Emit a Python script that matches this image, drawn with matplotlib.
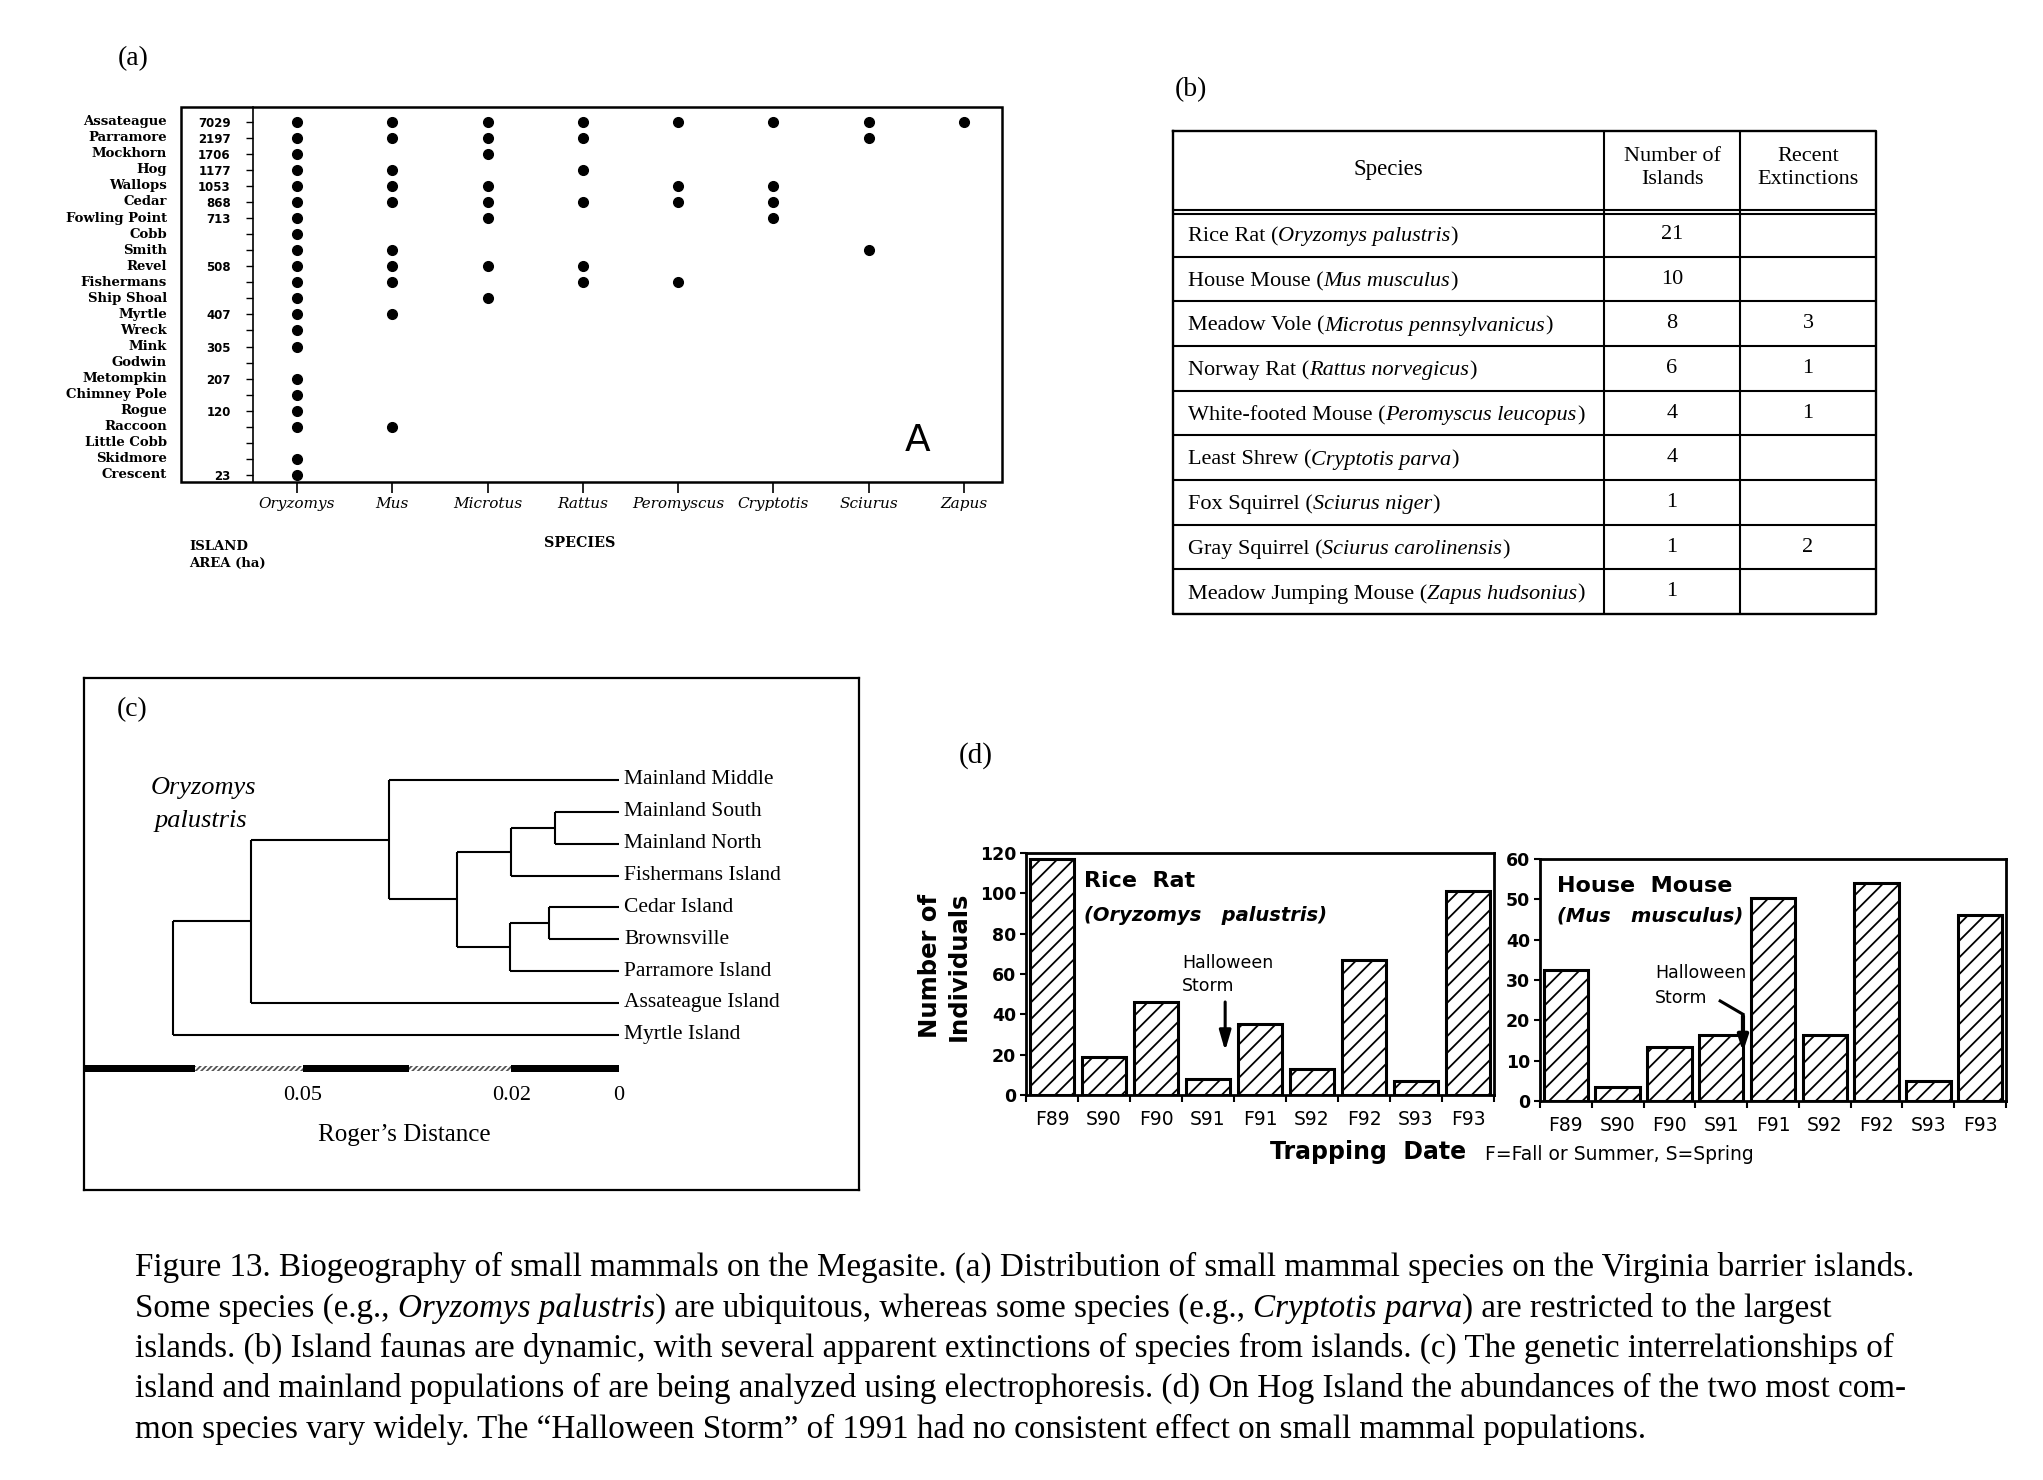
import matplotlib
matplotlib.use('Agg')
import matplotlib.pyplot as plt
import matplotlib.transforms as mtransforms
from matplotlib.patches import Rectangle

# ---------------- data ----------------
# (a) distribution of species on islands
islands = ['Assateague', 'Parramore', 'Mockhorn', 'Hog', 'Wallops', 'Cedar',
           'Fowling Point', 'Cobb', 'Smith', 'Revel', 'Fishermans', 'Ship Shoal',
           'Myrtle', 'Wreck', 'Mink', 'Godwin', 'Metompkin', 'Chimney Pole',
           'Rogue', 'Raccoon', 'Little Cobb', 'Skidmore', 'Crescent']
island_areas = ['7029', '2197', '1706', '1177', '1053', '868', '713', '', '', '508',
                '', '', '407', '', '305', '', '207', '', '120', '', '', '', '23']
genera = ['Oryzomys', 'Mus', 'Microtus', 'Rattus', 'Peromyscus', 'Cryptotis',
          'Sciurus', 'Zapus']
oryzomys_islands = ['Assateague', 'Parramore', 'Mockhorn', 'Hog', 'Wallops', 'Cedar',
                    'Fowling Point', 'Cobb', 'Smith', 'Revel', 'Fishermans',
                    'Ship Shoal', 'Myrtle', 'Wreck', 'Mink', 'Metompkin',
                    'Chimney Pole', 'Rogue', 'Raccoon', 'Skidmore', 'Crescent']
mus_islands = ['Assateague', 'Parramore', 'Hog', 'Wallops', 'Cedar', 'Smith',
               'Revel', 'Fishermans', 'Myrtle', 'Raccoon']
microtus_islands = ['Assateague', 'Parramore', 'Mockhorn', 'Wallops', 'Cedar',
                    'Fowling Point', 'Revel', 'Ship Shoal']
rattus_islands = ['Assateague', 'Parramore', 'Hog', 'Cedar', 'Revel', 'Fishermans']
peromyscus_islands = ['Assateague', 'Wallops', 'Cedar', 'Fishermans']
cryptotis_islands = ['Assateague', 'Wallops', 'Cedar', 'Fowling Point']
sciurus_islands = ['Assateague', 'Parramore', 'Smith']
zapus_islands = ['Assateague']

# (b) table
common_names = ['Rice Rat', 'House Mouse', 'Meadow Vole', 'Norway Rat',
                'White-footed Mouse', 'Least Shrew', 'Fox Squirrel',
                'Gray Squirrel', 'Meadow Jumping Mouse']
latin_names = ['Oryzomys palustris', 'Mus musculus', 'Microtus pennsylvanicus',
               'Rattus norvegicus', 'Peromyscus leucopus', 'Cryptotis parva',
               'Sciurus niger', 'Sciurus carolinensis', 'Zapus hudsonius']
number_of_islands = [21, 10, 8, 6, 4, 4, 1, 1, 1]
recent_extinctions = ['', '', '3', '1', '1', '', '', '2', '']

# (c) dendrogram
leaves = ['Mainland Middle', 'Mainland South', 'Mainland North', 'Fishermans Island',
          'Cedar Island', 'Brownsville', 'Parramore Island', 'Assateague Island',
          'Myrtle Island']
# (child a, child b, height); ids >= len(leaves) are earlier merges
merges = [(1, 2, 0.0119), (9, 3, 0.0201), (4, 5, 0.0130), (11, 6, 0.0203),
          (10, 12, 0.0304), (0, 13, 0.0431), (14, 7, 0.0689), (15, 8, 0.0836)]
scale_edges = [0.1003, 0.0795, 0.0592, 0.0394, 0.0201, 0.0]
scale_tick_pos = [0.0592, 0.0201, 0.0]
scale_tick_labels = ['0.05', '0.02', '0']

# (d) trapping
dates = ['F89', 'S90', 'F90', 'S91', 'F91', 'S92', 'F92', 'S93', 'F93']
rice_rat = [117, 19, 46, 8, 35, 13, 67, 7, 101]
house_mouse = [32.5, 3.5, 13.5, 16.3, 50.3, 16.3, 54, 5, 46]

# ---------------- figure ----------------
W, H = 2043, 1480
DPI = 100
plt.rcParams['hatch.linewidth'] = 1.3
fig = plt.figure(figsize=(W / DPI, H / DPI), dpi=DPI)
fig.patch.set_facecolor('white')
SERIF = 'Liberation Serif'
SANS = 'DejaVu Sans'
renderer = fig.canvas.get_renderer()


def fx(x):
    return x / W


def fy(y):
    return 1 - y / H


def text_width_px(s, **kw):
    t1 = fig.text(0, 0, '|' + s + '|', **kw)
    t2 = fig.text(0, 0, '||', **kw)
    w = t1.get_window_extent(renderer).width - t2.get_window_extent(renderer).width
    t1.remove()
    t2.remove()
    return w


def rich(xpx, ypx, parts, size, family=SERIF, ha='left'):
    widths = [text_width_px(s, fontsize=size, family=family, style=st) for s, st in parts]
    total = sum(widths)
    x = xpx - (total / 2 if ha == 'center' else 0)
    for (s, st), w in zip(parts, widths):
        fig.text(fx(x), fy(ypx), s, fontsize=size, family=family, style=st,
                 va='baseline', ha='left')
        x += w
    return total


# ---------------- panel (a) ----------------
fig.text(fx(133), fy(59), '(a)', fontsize=20, family=SERIF, ha='center', va='center')
axa = fig.add_axes([fx(181), fy(482), 821 / W, 375 / H])
axa.set_xlim(-1.217, 7.398)
axa.set_ylim(22.436, -0.915)
for s in ['top', 'right', 'bottom']:
    axa.spines[s].set_visible(False)
axa.spines['left'].set_position(('data', -0.462))
axa.spines['left'].set_linewidth(1.2)
axa.add_patch(Rectangle((0, 0), 1, 1, transform=axa.transAxes, fill=False, lw=1.8,
                        ec='black', clip_on=False))
presence = [oryzomys_islands, mus_islands, microtus_islands, rattus_islands,
            peromyscus_islands, cryptotis_islands, sciurus_islands, zapus_islands]
for j, lst in enumerate(presence):
    ys = [islands.index(n) for n in lst]
    axa.plot([j] * len(ys), ys, 'o', color='black', ms=7, ls='none')
axa.set_yticks(range(len(islands)))
axa.set_yticklabels(island_areas, fontsize=8.5, fontweight='bold', family=SANS)
axa.tick_params(axis='y', direction='out', length=5, width=1, pad=11)
axa.set_xticks(range(len(genera)))
axa.set_xticklabels(genera, fontsize=11, style='italic', family='DejaVu Serif')
axa.tick_params(axis='x', direction='out', length=8, width=1.2, pad=3)
blend = mtransforms.blended_transform_factory(axa.transAxes, axa.transData)
for i, name in enumerate(islands):
    axa.text(-0.017, i, name, transform=blend, ha='right', va='center', fontsize=9.5,
             fontweight='bold', family='DejaVu Serif', clip_on=False)
axa.text(0.897, 0.11, 'A', transform=axa.transAxes, fontsize=27, family=SANS,
         ha='center', va='center')
fig.text(fx(189), fy(546), 'ISLAND', fontsize=9.5, family='DejaVu Serif',
         fontweight='bold', ha='left', va='center')
fig.text(fx(189), fy(563), 'AREA (ha)', fontsize=9.5, family='DejaVu Serif',
         fontweight='bold', ha='left', va='center')
fig.text(fx(580), fy(543), 'SPECIES', fontsize=10.3, family='DejaVu Serif',
         fontweight='bold', ha='center', va='center')

# ---------------- panel (b) ----------------
fig.text(fx(1191), fy(90), '(b)', fontsize=20, family=SERIF, ha='center', va='center')
TX, TY, TW, TH = 1173, 131, 703, 483
axb = fig.add_axes([fx(TX), fy(TY + TH), TW / W, TH / H])
axb.set_xlim(0, TW)
axb.set_ylim(TH, 0)
axb.axis('off')
head_h = 81
row_h = (TH - head_h) / len(common_names)
col_x = [0, 431, 567, TW]
lw = 1.5
axb.plot([0, TW, TW, 0, 0], [0, 0, TH, TH, 0], color='black', lw=1.7, clip_on=False)
for cx in col_x[1:-1]:
    axb.plot([cx, cx], [0, TH], color='black', lw=lw)
axb.plot([0, TW], [head_h - 2, head_h - 2], color='black', lw=lw)
axb.plot([0, TW], [head_h + 2, head_h + 2], color='black', lw=lw)
for i in range(1, len(common_names)):
    axb.plot([0, TW], [head_h + i * row_h] * 2, color='black', lw=lw)
TFS = 16
axb.text((col_x[0] + col_x[1]) / 2, 38, 'Species', ha='center', va='center',
         fontsize=16.5, family=SERIF)
axb.text((col_x[1] + col_x[2]) / 2, 37, 'Number of\nIslands', ha='center', va='center',
         fontsize=16, family=SERIF, linespacing=1.25)
axb.text((col_x[2] + col_x[3]) / 2, 37, 'Recent\nExtinctions', ha='center', va='center',
         fontsize=16, family=SERIF, linespacing=1.25)
for i in range(len(common_names)):
    yc = head_h + (i + 0.5) * row_h
    rich(TX + 15, TY + yc + 7, [(common_names[i] + ' (', 'normal'),
                                (latin_names[i], 'italic'), (')', 'normal')], TFS)
    axb.text((col_x[1] + col_x[2]) / 2, yc, str(number_of_islands[i]), ha='center',
             va='center', fontsize=TFS, family=SERIF)
    axb.text((col_x[2] + col_x[3]) / 2, yc, recent_extinctions[i], ha='center',
             va='center', fontsize=TFS, family=SERIF)

# ---------------- panel (c) ----------------
axc = fig.add_axes([fx(84), fy(1190), 775 / W, 512 / H])
axc.set_xlim(0.1003, -0.0451)
axc.set_ylim(12.87, -3.20)
axc.set_xticks([])
axc.set_yticks([])
for s in axc.spines.values():
    s.set_linewidth(1.6)
pos_y = {i: float(i) for i in range(len(leaves))}
pos_h = {i: 0.0 for i in range(len(leaves))}
node = len(leaves)
for a, b, h in merges:
    for c in (a, b):
        axc.plot([pos_h[c], h], [pos_y[c], pos_y[c]], color='black', lw=1.5,
                 solid_capstyle='butt')
    axc.plot([h, h], [pos_y[a], pos_y[b]], color='black', lw=1.5, solid_capstyle='butt')
    pos_y[node] = (pos_y[a] + pos_y[b]) / 2
    pos_h[node] = h
    node += 1
for i, name in enumerate(leaves):
    axc.text(-0.001, i, name, ha='left', va='center', fontsize=15.5, family=SERIF)
bar_y, bar_hh = 9.06, 0.11
for k in range(len(scale_edges) - 1):
    x0, x1 = scale_edges[k], scale_edges[k + 1]
    if k % 2 == 0:
        axc.add_patch(Rectangle((x1, bar_y - bar_hh), x0 - x1, 2 * bar_hh,
                                facecolor='black', edgecolor='black', lw=0))
    else:
        axc.add_patch(Rectangle((x1, bar_y - bar_hh * 0.7), x0 - x1, 1.4 * bar_hh,
                                facecolor='white', edgecolor='#555555', lw=0,
                                hatch='//////'))
for p, lab in zip(scale_tick_pos, scale_tick_labels):
    axc.text(p, 9.91, lab, ha='center', va='center', fontsize=16, family=SERIF)
axc.text(0.413, 0.108, 'Roger\u2019s Distance', transform=axc.transAxes, ha='center',
         va='center', fontsize=18, family=SERIF)
fig.text(fx(132), fy(710), '(c)', fontsize=20, family=SERIF, ha='center', va='center')
fig.text(fx(151), fy(788), 'Oryzomys', fontsize=19, family=SERIF, style='italic',
         ha='left', va='center')
fig.text(fx(155), fy(821), 'palustris', fontsize=19, family=SERIF, style='italic',
         ha='left', va='center')

# ---------------- panel (d) ----------------
fig.text(fx(976), fy(756), '(d)', fontsize=21, family=SERIF, ha='center', va='center')


def bar_panel(ax, values, ymax, ystep):
    x = list(range(len(dates)))
    ax.bar(x, values, width=0.86, facecolor='white', edgecolor='black', lw=2.2,
           hatch='//')
    ax.set_xlim(-0.5, len(dates) - 0.5)
    ax.set_ylim(0, ymax)
    ax.set_yticks(range(0, ymax + 1, ystep))
    ax.set_xticks(x)
    ax.set_xticklabels(dates, fontsize=13.5, family=SANS)
    ax.set_xticks([v - 0.5 for v in range(len(dates) + 1)], minor=True)
    ax.tick_params(axis='x', which='major', length=0, pad=11)
    ax.tick_params(axis='x', which='minor', length=5, width=1.5, direction='out')
    ax.tick_params(axis='y', length=4, width=1.5, direction='out', pad=3)
    for lab in ax.get_yticklabels():
        lab.set_fontweight('bold')
        lab.set_fontsize(12.5)
        lab.set_family(SANS)
    for s in ax.spines.values():
        s.set_linewidth(2)


ax1 = fig.add_axes([fx(1026), fy(1095), 468 / W, 242 / H])
bar_panel(ax1, rice_rat, 120, 20)
ax1.text(0.62, 106, 'Rice  Rat', fontsize=16, fontweight='bold', family=SANS,
         ha='left', va='center')
ax1.text(0.62, 89, '(Oryzomys   palustris)', fontsize=14, fontweight='bold',
         style='italic', family=SANS, ha='left', va='center')
ax1.text(2.5, 65.5, 'Halloween', fontsize=12.5, family=SANS, ha='left', va='center')
ax1.text(2.5, 54, 'Storm', fontsize=12.5, family=SANS, ha='left', va='center')
ax1.annotate('', xy=(3.33, 20.5), xytext=(3.33, 47.5),
             arrowprops=dict(arrowstyle='-|>,head_length=1.2,head_width=0.35',
                             color='black', lw=2.2))

ax2 = fig.add_axes([fx(1540), fy(1101), 466 / W, 242 / H])
bar_panel(ax2, house_mouse, 60, 10)
ax2.text(-0.17, 53.3, 'House  Mouse', fontsize=16, fontweight='bold', family=SANS,
         ha='left', va='center')
ax2.text(-0.17, 45.9, '(Mus   musculus)', fontsize=14, fontweight='bold',
         style='italic', family=SANS, ha='left', va='center')
ax2.text(1.72, 31.7, 'Halloween', fontsize=12.5, family=SANS, ha='left', va='center')
ax2.text(1.72, 25.5, 'Storm', fontsize=12.5, family=SANS, ha='left', va='center')
ax2.plot([2.98, 3.42], [24.8, 21.5], color='black', lw=2.2)
ax2.annotate('', xy=(3.42, 11.5), xytext=(3.42, 21.8),
             arrowprops=dict(arrowstyle='-|>,head_length=0.9,head_width=0.3',
                             color='black', lw=3))

fig.text(fx(944), fy(966), 'Number of\nIndividuals', rotation=90, fontsize=17.5,
         fontweight='bold', family=SANS, ha='center', va='center', linespacing=1.25)
fig.text(fx(1368), fy(1152), 'Trapping  Date', fontsize=17, fontweight='bold',
         family=SANS, ha='center', va='center')
fig.text(fx(1485), fy(1154), 'F=Fall or Summer, S=Spring', fontsize=13.5, family=SANS,
         ha='left', va='center')

# ---------------- caption ----------------
caption_lines = [
    [("Figure 13. Biogeography of small mammals on the Megasite. (a) Distribution of "
      "small mammal species on the Virginia barrier islands.", 'normal')],
    [("Some species (e.g., ", 'normal'), ("Oryzomys palustris", 'italic'),
     (") are ubiquitous, whereas some species (e.g., ", 'normal'),
     ("Cryptotis parva", 'italic'), (") are restricted to the largest", 'normal')],
    [("islands. (b) Island faunas are dynamic, with several apparent extinctions of "
      "species from islands. (c) The genetic interrelationships of", 'normal')],
    [("island and mainland populations of are being analyzed using electrophoresis. "
      "(d) On Hog Island the abundances of the two most com-", 'normal')],
    [("mon species vary widely. The \u201cHalloween Storm\u201d of 1991 had no "
      "consistent effect on small mammal populations.", 'normal')],
]
base = 20
w1 = text_width_px(caption_lines[0][0][0], fontsize=base, family=SERIF)
cap_size = base * 1788 / w1
baselines = [1276, 1317, 1357, 1397, 1438]
for parts, yb in zip(caption_lines, baselines):
    rich(135, yb, parts, cap_size)

fig.savefig('out.png', dpi=DPI)
